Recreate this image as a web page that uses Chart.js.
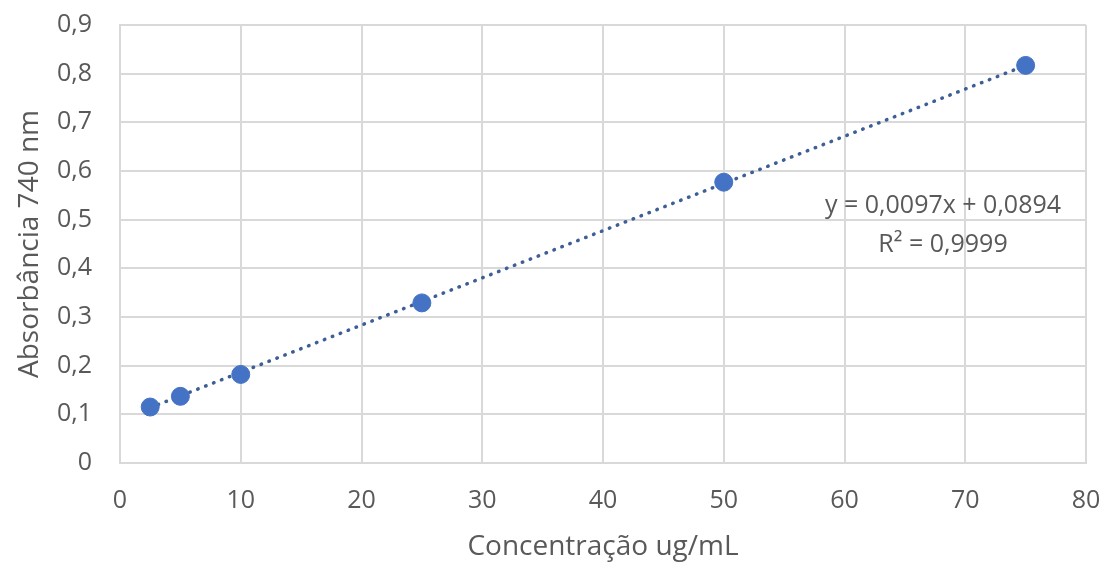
<!DOCTYPE html>
<html><head><meta charset="utf-8">
<script src="https://cdn.jsdelivr.net/npm/chart.js@4"></script>
<style>html,body{margin:0;padding:0;background:#fff}#wrap{width:1108px;height:568px}</style>
</head><body><div id="wrap"><canvas id="c" width="1108" height="568"></canvas></div>
<script>
const concentrations = [2.5, 5, 10, 25, 50, 75];
const absorbances = [0.115, 0.137, 0.182, 0.329, 0.577, 0.817];
const trendX = [2.5, 75];
const trendY = [0.1137, 0.8169];
const equationLines = ['y = 0,0097x + 0,0894', 'R² = 0,9999'];
const xTitle = 'Concentração ug/mL';
const yTitle = 'Absorbância 740 nm';

const FONT = "'Open Sans', sans-serif";
const fmt = v => String(Math.round(v*10)/10).replace('.', ',');

const eqPlugin = {
  id: 'eq',
  afterDatasetsDraw(chart) {
    const {ctx, chartArea} = chart;
    ctx.save();
    ctx.font = "25px " + FONT;
    ctx.fillStyle = '#595959';
    ctx.textAlign = 'center';
    ctx.textBaseline = 'middle';
    const cx = chartArea.right - 143;
    ctx.fillText(equationLines[0], cx, chartArea.top + 181);
    ctx.fillText(equationLines[1], cx, chartArea.top + 220);
    ctx.restore();
  }
};

new Chart(document.getElementById('c'), {
  type: 'scatter',
  data: {
    datasets: [
      {
        label: 'trend',
        data: trendX.map((x,i)=>({x, y: trendY[i]})),
        showLine: true,
        borderColor: '#3d5f96',
        borderWidth: 3.5,
        borderDash: [0.5, 8],
        borderCapStyle: 'round',
        pointRadius: 0,
        order: 2
      },
      {
        label: 'data',
        data: concentrations.map((x,i)=>({x, y: absorbances[i]})),
        backgroundColor: '#4472C4',
        borderColor: '#4472C4',
        pointRadius: 9,
        pointHoverRadius: 9,
        order: 1
      }
    ]
  },
  options: {
    responsive: false,
    animation: false,
    layout: {padding: {top: 25, right: 22, left: 0, bottom: 0}},
    plugins: {legend: {display: false}, tooltip: {enabled: false}},
    scales: {
      x: {
        type: 'linear', min: 0, max: 80,
        ticks: {stepSize: 10, color: '#595959', font: {family: FONT, size: 25}, padding: 23, maxRotation: 0},
        grid: {color: '#d9d9d9', lineWidth: 2, drawTicks: false},
        border: {color: '#d9d9d9', width: 2},
        title: {display: true, text: xTitle, color: '#595959', font: {family: FONT, size: 28}, padding: {top: 4, bottom: 4}},
        afterFit(s) { s.height = 105; s.paddingLeft = 0; s.paddingRight = 0; }
      },
      y: {
        type: 'linear', min: 0, max: 0.9,
        ticks: {stepSize: 0.1, color: '#595959', font: {family: FONT, size: 25}, padding: 28, callback: v => fmt(v)},
        grid: {color: '#d9d9d9', lineWidth: 2, drawTicks: false},
        border: {color: '#d9d9d9', width: 2},
        title: {display: true, text: yTitle, color: '#595959', font: {family: FONT, size: 28}, padding: {top: 13, bottom: 4}},
        afterFit(s) { s.width = 120; s.paddingTop = 0; s.paddingBottom = 0; }
      }
    }
  },
  plugins: [eqPlugin]
});
</script></body></html>
